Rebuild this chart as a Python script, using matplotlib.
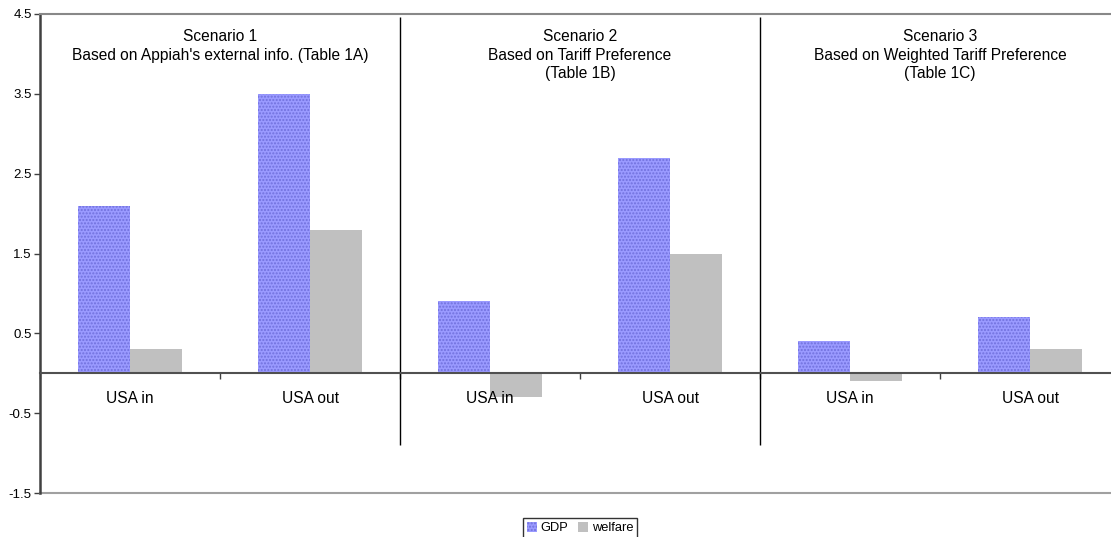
import numpy as np
import matplotlib.pyplot as plt

plt.rcParams['font.family'] = ['Liberation Sans', 'DejaVu Sans']
plt.rcParams['hatch.linewidth'] = 1.0

categories = ['USA in', 'USA out', 'USA in', 'USA out', 'USA in', 'USA out']
gdp = [2.1, 3.5, 0.9, 2.7, 0.4, 0.7]
welfare = [0.3, 1.8, -0.3, 1.5, -0.1, 0.3]
scenarios = ["Scenario 1\nBased on Appiah's external info. (Table 1A)",
             "Scenario 2\nBased on Tariff Preference\n(Table 1B)",
             "Scenario 3\nBased on Weighted Tariff Preference\n(Table 1C)"]
yticks = [-1.5, -0.5, 0.5, 1.5, 2.5, 3.5, 4.5]

fig = plt.figure(figsize=(11.11, 5.37), dpi=100)
ax = fig.add_axes([40/1111, 1-493/537, 1080/1111, 479/537])

x = np.arange(len(categories))
w = 0.289
ax.bar(x - w/2, gdp, w, color='#9a9aff', edgecolor='#7070dd', linewidth=0,
       hatch='.....', label='GDP', zorder=1)
ax.bar(x + w/2, welfare, w, color='#c0c0c0', linewidth=0, label='welfare', zorder=1)

ax.set_xlim(-0.5, len(categories) - 0.5)
ax.set_ylim(-1.5, 4.5)
ax.set_yticks(yticks)
ax.set_yticklabels(['%.1f' % t for t in yticks])
ax.tick_params(axis='y', direction='out', length=4, width=1, color='#404040', pad=2,
               labelsize=9.5)

ax.set_xticks(x)
ax.set_xticklabels(categories)
ax.set_xticks(np.arange(-0.5, len(categories), 1.0), minor=True)
ax.tick_params(axis='x', which='major', length=0, pad=12.5, labelsize=11.2)
ax.tick_params(axis='x', which='minor', direction='out', length=4, width=1, color='#404040')

ax.spines['bottom'].set_position(('data', 0))
ax.spines['bottom'].set_color('#505050')
ax.spines['bottom'].set_linewidth(1.5)
ax.spines['left'].set_color('#404040')
ax.spines['left'].set_linewidth(1.8)
ax.spines['top'].set_color('#888888')
ax.spines['top'].set_linewidth(1.5)
ax.spines['right'].set_visible(False)
ax.axhline(-1.5, color='#a0a0a0', linewidth=1.5, clip_on=False)

ax.vlines([1.5, 3.5], -0.9, 4.46, color='black', linewidth=1)
for i, s in enumerate(scenarios):
    ax.text(2 * i + 0.5, 4.31, s, ha='center', va='top', fontsize=11.2, linespacing=1.3)

fig.legend(loc='center', bbox_to_anchor=(580/1111, 1 - 528/537), ncol=2,
           fontsize=9.3, frameon=True, fancybox=False, edgecolor='black',
           handlelength=0.8, handleheight=0.8, handletextpad=0.3, columnspacing=0.7,
           borderpad=0.3, borderaxespad=0)

fig.savefig('out.png', dpi=100)
